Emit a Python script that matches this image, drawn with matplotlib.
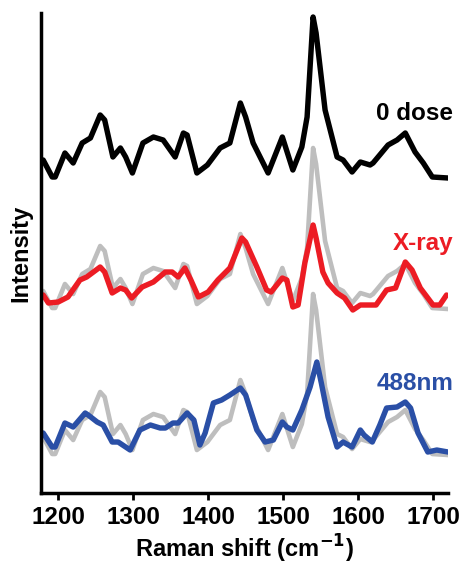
import matplotlib.pyplot as plt
import numpy as np

plt.rcParams['font.family'] = ['Liberation Sans', 'DejaVu Sans']
plt.rcParams['font.weight'] = 'bold'

# 0 dose spectrum (black), intensity in arbitrary units
shift_0 = [1180, 1192, 1196, 1209, 1220, 1232, 1243, 1256, 1262, 1273, 1283, 1290,
           1299, 1313, 1327, 1340, 1356, 1367, 1372, 1385, 1399, 1416, 1429, 1443,
           1450, 1460, 1480, 1499, 1513, 1525, 1532, 1540, 1544, 1556, 1572, 1580,
           1592, 1603, 1616, 1620, 1640, 1652, 1663, 1676, 1687, 1699, 1720]
int_0 = [333, 316, 316, 340, 330, 350, 355, 378, 373, 336, 345, 336,
         320, 350, 356, 353, 336, 360, 358, 320, 328, 345, 350, 390,
         376, 350, 320, 356, 323, 346, 376, 476, 460, 383, 336, 333,
         321, 331, 328, 330, 348, 353, 360, 341, 330, 316, 315]

# X-ray spectrum (red)
shift_xray = [1180, 1187, 1200, 1213, 1229, 1238, 1256, 1262, 1272, 1283, 1290, 1298,
              1312, 1327, 1343, 1352, 1360, 1369, 1377, 1387, 1400, 1413, 1429, 1445,
              1450, 1465, 1478, 1484, 1499, 1505, 1513, 1520, 1529, 1540, 1544, 1553,
              1560, 1572, 1582, 1593, 1603, 1616, 1624, 1638, 1650, 1663, 1672, 1683,
              1690, 1700, 1709, 1718]
int_xray = [198, 190, 191, 196, 213, 216, 226, 221, 200, 205, 203, 195,
            206, 211, 221, 221, 216, 225, 213, 196, 201, 213, 225, 255,
            251, 226, 203, 201, 215, 213, 186, 188, 230, 268, 255, 221,
            210, 200, 195, 183, 188, 188, 188, 203, 205, 231, 223, 205,
            198, 188, 188, 198]

# 488nm spectrum (blue)
shift_488 = [1180, 1192, 1196, 1209, 1220, 1236, 1240, 1252, 1260, 1272, 1280, 1296,
             1309, 1323, 1336, 1343, 1353, 1360, 1372, 1381, 1389, 1396, 1407, 1418,
             1429, 1443, 1450, 1465, 1476, 1487, 1499, 1505, 1513, 1525, 1536, 1545,
             1551, 1560, 1572, 1580, 1592, 1603, 1608, 1619, 1629, 1638, 1652, 1663,
             1670, 1680, 1693, 1705, 1720]
int_488 = [60, 46, 46, 70, 66, 80, 78, 71, 68, 51, 51, 43,
           63, 68, 65, 65, 70, 70, 80, 73, 48, 60, 90, 93,
           98, 105, 98, 63, 51, 53, 71, 66, 63, 83, 106, 131,
           110, 76, 46, 51, 46, 63, 58, 51, 68, 85, 86, 91,
           85, 60, 41, 43, 41]

# vertical offsets of the gray reference copies of the 0 dose spectrum
offset_xray = 131
offset_488 = 277

labels = ['0 dose', 'X-ray', '488nm']
label_y = [380, 250, 110]
colors = ['#000000', '#ec1c24', '#2a4fa6']
gray = '#bebebe'


def main():
    fig = plt.figure(figsize=(4.6, 5.65), dpi=100)
    ax = fig.add_axes([0.089, 0.1274, 0.885, 0.8496])

    s0 = np.array(shift_0)
    i0 = np.array(int_0)
    kw = dict(solid_joinstyle='round', solid_capstyle='round')

    # gray copies of the reference spectrum
    ax.plot(s0, i0 - offset_xray, color=gray, lw=3.3, **kw)
    ax.plot(s0, i0 - offset_488, color=gray, lw=3.3, **kw)

    ax.plot(s0, i0, color=colors[0], lw=3.9, **kw)
    ax.plot(shift_xray, int_xray, color=colors[1], lw=3.9, **kw)
    ax.plot(shift_488, int_488, color=colors[2], lw=3.9, **kw)

    for lab, yy, c in zip(labels, label_y, colors):
        ax.text(1727, yy, lab, color=c, fontsize=17.5, fontweight='bold',
                ha='right', va='center', clip_on=False)

    ax.set_xlim(1177, 1720)
    ax.set_ylim(0, 480)
    ax.set_xticks([1200, 1300, 1400, 1500, 1600, 1700])
    ax.set_yticks([])
    ax.tick_params(axis='x', direction='out', length=5, width=2,
                   labelsize=17.5, pad=4)
    for t in ax.get_xticklabels():
        t.set_fontweight('bold')

    ax.spines['top'].set_visible(False)
    ax.spines['right'].set_visible(False)
    ax.spines['left'].set_linewidth(2.5)
    ax.spines['bottom'].set_linewidth(2.5)

    ax.set_xlabel('Raman shift (cm$^{\\mathbf{-1}}$)', fontsize=17,
                  fontweight='bold', labelpad=3)
    ax.set_ylabel('Intensity', fontsize=17, fontweight='bold', labelpad=6)

    fig.savefig('out.png', dpi=100)
    plt.close(fig)


if __name__ == '__main__':
    main()
